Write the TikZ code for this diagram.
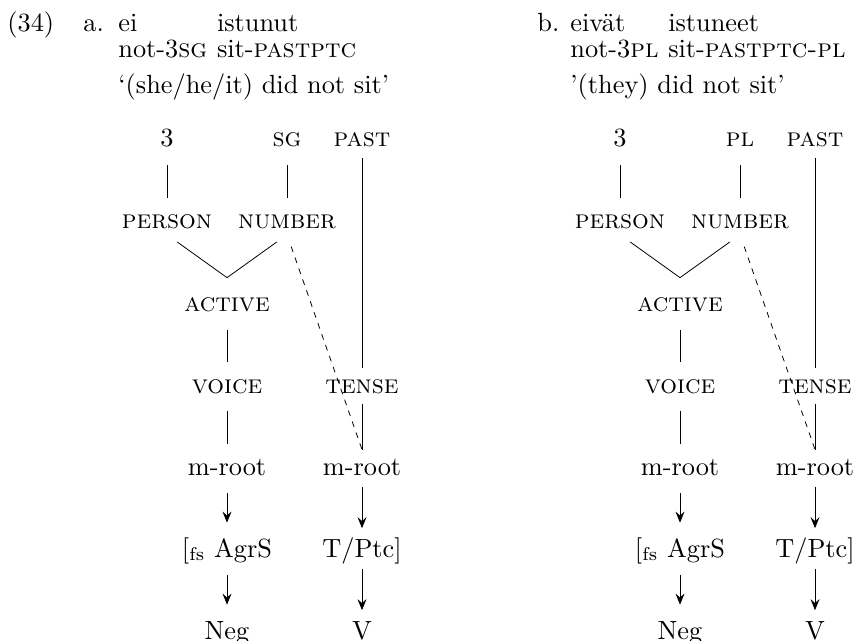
\documentclass[tikz,border=0pt]{standalone}
\usetikzlibrary{arrows.meta,positioning}
\tikzset{
  every picture/.style={line width=0.3pt},
  ft/.style={inner sep=0pt, text height=7pt, text depth=2pt, anchor=base},
  gl/.style={inner sep=0pt, anchor=base west},
  ln/.style={shorten <=4.8pt, shorten >=4.8pt},
  tn/.style={shorten <=2pt, shorten >=2.5pt},
  arl/.style={-{Stealth[length=4.2pt,width=3.4pt,inset=1.5pt]}, shorten <=4.8pt, shorten >=5.9pt},
  arr/.style={-{Stealth[length=4.2pt,width=3.4pt,inset=1.5pt]}, shorten <=2.4pt, shorten >=3.8pt},
}
\begin{document}
\begin{tikzpicture}[x=0.38pt, y=-0.38pt]
      \useasboundingbox (0,0) rectangle (853,641);

      % example (a)
      \node[gl] (num) at (7,32) {(34)};
      \node[gl] (la) at (83,32) {a.};
      \node[gl] (wda) at (118,32) {ei};
      \node[gl] (gla) at (118,58) {not-3\textsc{sg}};
      \node[gl, xshift=3.4pt] (glb) at (gla.base east) {sit-\textsc{pastptc}};
      \node[gl] (wdb) at (glb.base west |- wda.base) {istunut};
      \node[gl] (tra) at (118,94) {`(she/he/it) did not sit'};

      \node[ft] (athree) at (167,147) {3};
      \node[ft] (asg) at (287,147) {\textsc{sg}};
      \node[ft] (apast) at (362,147) {\textsc{past}};
      \node[ft] (aperson) at (167,229) {\textsc{person}};
      \node[ft] (anumber) at (287,229) {\textsc{number}};
      \node[ft] (aactive) at (227,312) {\textsc{active}};
      \node[ft] (avoice) at (227,393) {\textsc{voice}};
      \node[ft] (atense) at (362,393) {\textsc{tense}};
      \node[ft] (amroot) at (227,475) {m-root};
      \node[ft] (amrootb) at (362,475) {m-root};
      \node[ft] (aagrs) at (227,557) {[\textsubscript{fs} AgrS};
      \node[ft] (atptc) at (362,557) {T/Ptc]};
      \node[ft] (aneg) at (227,639) {Neg};
      \node[ft] (av) at (362,639) {V};
      \coordinate (aapex) at ([yshift=5.9pt]aactive.north);
      \coordinate (atop) at ([yshift=2.5pt]amrootb.north);

      \draw[ln] (athree) -- (aperson);
      \draw[ln] (asg) -- (anumber);
      \draw[shorten <=4.8pt] (aperson.south) -- (aapex);
      \draw[shorten >=4.8pt] (aapex) -- (anumber.south);
      \draw[ln] (aactive) -- (avoice);
      \draw[ln] (avoice) -- (amroot);
      \draw[tn] (apast) -- (atense);
      \draw[shorten <=2pt] (atense) -- (atop);
      \draw[dash pattern=on 2.2pt off 2.2pt, shorten <=4.8pt] (anumber.south) -- (atop);
      \draw[arl] (amroot) -- (aagrs);
      \draw[arl] (aagrs) -- (aneg);
      \draw[arr] (amrootb) -- (atptc);
      \draw[arr] (atptc) -- (av);

      % example (b)
      \node[gl] (lb) at (537,32) {b.};
      \node[gl] (wdc) at (570,32) {eivät};
      \node[gl] (glc) at (570,58) {not-3\textsc{pl}};
      \node[gl, xshift=3.4pt] (gld) at (glc.base east) {sit-\textsc{pastptc-pl}};
      \node[gl] (wdd) at (gld.base west |- wdc.base) {istuneet};
      \node[gl] (trb) at (570,94) {'(they) did not sit'};

      \node[ft] (bthree) at (620,147) {3};
      \node[ft] (bpl) at (740,147) {\textsc{pl}};
      \node[ft] (bpast) at (815,147) {\textsc{past}};
      \node[ft] (bperson) at (620,229) {\textsc{person}};
      \node[ft] (bnumber) at (740,229) {\textsc{number}};
      \node[ft] (bactive) at (680,312) {\textsc{active}};
      \node[ft] (bvoice) at (680,393) {\textsc{voice}};
      \node[ft] (btense) at (815,393) {\textsc{tense}};
      \node[ft] (bmroot) at (680,475) {m-root};
      \node[ft] (bmrootb) at (815,475) {m-root};
      \node[ft] (bagrs) at (680,557) {[\textsubscript{fs} AgrS};
      \node[ft] (btptc) at (815,557) {T/Ptc]};
      \node[ft] (bneg) at (680,639) {Neg};
      \node[ft] (bv) at (815,639) {V};
      \coordinate (bapex) at ([yshift=5.9pt]bactive.north);
      \coordinate (btop) at ([yshift=2.5pt]bmrootb.north);

      \draw[ln] (bthree) -- (bperson);
      \draw[ln] (bpl) -- (bnumber);
      \draw[shorten <=4.8pt] (bperson.south) -- (bapex);
      \draw[shorten >=4.8pt] (bapex) -- (bnumber.south);
      \draw[ln] (bactive) -- (bvoice);
      \draw[ln] (bvoice) -- (bmroot);
      \draw[tn] (bpast) -- (btense);
      \draw[shorten <=2pt] (btense) -- (btop);
      \draw[dash pattern=on 2.2pt off 2.2pt, shorten <=4.8pt] (bnumber.south) -- (btop);
      \draw[arl] (bmroot) -- (bagrs);
      \draw[arl] (bagrs) -- (bneg);
      \draw[arr] (bmrootb) -- (btptc);
      \draw[arr] (btptc) -- (bv);
\end{tikzpicture}
\end{document}
